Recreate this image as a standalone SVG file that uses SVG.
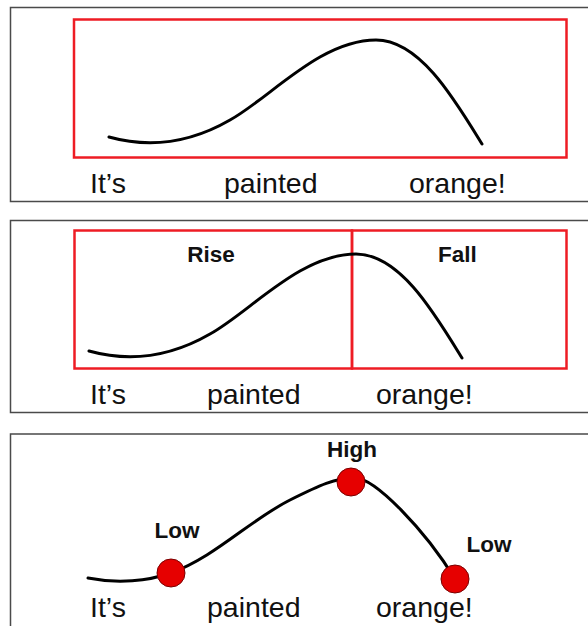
<svg xmlns="http://www.w3.org/2000/svg" width="588" height="626" viewBox="0 0 588 626">
<style>
.frame{fill:none;stroke:#4a4a4a;stroke-width:1.5}
.box{fill:none;stroke:#ee1c24;stroke-width:2.5}
.curve{fill:none;stroke:#000;stroke-width:3;stroke-linecap:round}
.word{font-family:"Liberation Sans",Arial,sans-serif;font-size:28.5px;fill:#111}
.lab{font-family:"Liberation Sans",Arial,sans-serif;font-size:22.5px;font-weight:bold;fill:#111}
.dot{fill:#e60000;stroke:#7a0000;stroke-width:1}
</style>
<defs>
<path id="hump" d="M109,137 C145,147 185,146 230,120 C270,98 320,40 376,40 C420,40 455,100 482,144"/>
</defs>
<rect width="588" height="626" fill="#fff"/>

<g id="panel1">
<rect class="frame" x="10.5" y="7.5" width="600" height="194"/>
<rect class="box" x="74" y="19.5" width="492.5" height="138"/>
<use href="#hump" class="curve"/>
<text class="word" x="90" y="193">It’s</text>
<text class="word" x="224" y="193">painted</text>
<text class="word" x="409" y="193">orange!</text>
</g>

<g id="panel2">
<rect class="frame" x="10.5" y="220.5" width="600" height="192"/>
<rect class="box" x="74.5" y="230.5" width="277.5" height="138"/>
<rect class="box" x="352" y="230.5" width="214.5" height="138"/>
<use href="#hump" class="curve" transform="translate(-20,214)"/>
<text class="lab" x="211" y="262" text-anchor="middle">Rise</text>
<text class="lab" x="457.5" y="262" text-anchor="middle">Fall</text>
<text class="word" x="90" y="404">It’s</text>
<text class="word" x="207" y="404">painted</text>
<text class="word" x="376" y="404">orange!</text>
</g>

<g id="panel3">
<rect class="frame" x="10.5" y="434" width="600" height="220"/>
<path class="curve" d="M88,578 C118,584 148,581 171,573 C215,557 250,520 290,500 C320,485 335,478 355,478 C375,478 425,530 455,579"/>
<g id="node-low1"><circle class="dot" cx="171" cy="573" r="14"/><text class="lab" x="177" y="538" text-anchor="middle">Low</text></g>
<g id="node-high"><circle class="dot" cx="351" cy="482" r="14"/><text class="lab" x="352" y="457" text-anchor="middle">High</text></g>
<g id="node-low2"><circle class="dot" cx="455" cy="579" r="14"/><text class="lab" x="489" y="552" text-anchor="middle">Low</text></g>
<text class="word" x="90" y="617">It’s</text>
<text class="word" x="207" y="617">painted</text>
<text class="word" x="376" y="617">orange!</text>
</g>
</svg>
